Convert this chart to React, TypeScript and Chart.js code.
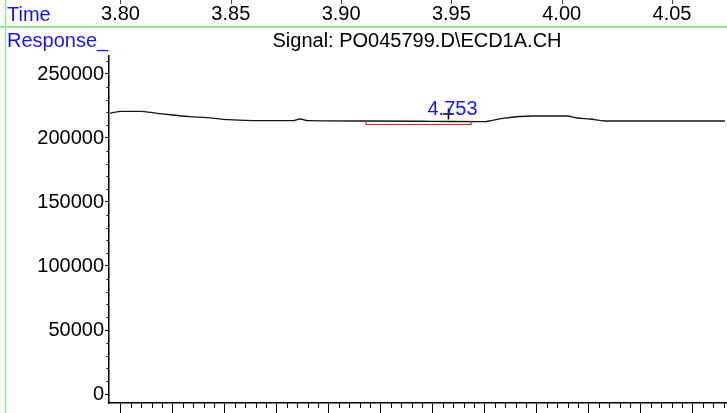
import React, { useEffect, useRef } from "react";
import { Chart, registerables } from "chart.js";

Chart.register(...registerables);

const FONT = '"Liberation Sans", Arial, Helvetica, sans-serif';
const BLUE = "rgb(20,20,255)";
const GREEN = "rgb(150,236,150)";

// ---- axis ranges / tick settings ----
const timeMin = 3.79479;
const timeMax = 4.07494;
const timeStep = 0.05;

const responseMin = -7031;
const responseMax = 264062;
const responseTicks = [0, 50000, 100000, 150000, 200000, 250000];
const responseMinorStep = 10000;

const scanMin = -1.106;
const scanMax = 58.32;
const scanMajorEvery = 5;

// ---- texts ----
const timeTitle = "Time";
const responseTitle = "Response_";
const signalTitle = "Signal: PO045799.D\\ECD1A.CH";

// ---- signal trace ----
const signalTimes = [
  3.79524, 3.80068, 3.80884, 3.81655, 3.8238, 3.83151, 3.83921, 3.84647,
  3.85644, 3.8782, 3.88137, 3.885, 3.91129, 3.9403, 3.96433, 3.97339,
  3.98699, 4.0024, 4.00693, 4.01283, 4.01963, 4.07402,
];
const signalValues = [
  219297, 220859, 220859, 219297, 217969, 216641, 215859, 214609,
  213828, 213516, 214844, 213516, 213281, 213047, 212734, 215391,
  217188, 217188, 215625, 214844, 213281, 213281,
];

// ---- peak annotation ----
const peakLabel = "4.753";
const peakTimes = [3.94869];
const peakValues = [218750];

const bracketTimes = [3.91129, 3.91129, 3.95889, 3.95889];
const bracketValues = [213281, 210547, 210547, 213281];

const decorPlugin = {
  id: "decor",
  afterDraw(chart: any) {
    const ctx = chart.ctx as CanvasRenderingContext2D;
    const xs = chart.scales.x;
    const ys = chart.scales.y;
    const bs = chart.scales.x2;
    const area = chart.chartArea;
    ctx.save();

    // green frame lines
    ctx.strokeStyle = GREEN;
    ctx.lineWidth = 2;
    ctx.beginPath();
    ctx.moveTo(0, 27);
    ctx.lineTo(chart.width, 27);
    ctx.stroke();
    ctx.lineWidth = 1.5;
    ctx.beginPath();
    ctx.moveTo(5.5, 0);
    ctx.lineTo(5.5, chart.height);
    ctx.stroke();

    // small ticks above the time labels
    ctx.strokeStyle = "#444";
    ctx.lineWidth = 1;
    xs.ticks.forEach((t: any) => {
      const px = Math.round(xs.getPixelForValue(t.value)) + 0.5;
      ctx.beginPath();
      ctx.moveTo(px, 0);
      ctx.lineTo(px, 4);
      ctx.stroke();
    });

    // y minor ticks
    ctx.strokeStyle = "#000";
    const majorSet = new Set(responseTicks);
    for (let v = 0; v <= ys.max; v += responseMinorStep) {
      if (majorSet.has(v)) continue;
      const py = Math.round(ys.getPixelForValue(v)) + 0.5;
      ctx.beginPath();
      ctx.moveTo(area.left - 2.5, py);
      ctx.lineTo(area.left, py);
      ctx.stroke();
    }

    // bottom minor ticks
    bs.ticks.forEach((t: any) => {
      if (t.value < 0 || Math.round(t.value) % scanMajorEvery === 0) return;
      const px = Math.round(bs.getPixelForValue(t.value)) + 0.5;
      ctx.beginPath();
      ctx.moveTo(px, area.bottom);
      ctx.lineTo(px, area.bottom + 5);
      ctx.stroke();
    });

    // texts
    ctx.font = `20px ${FONT}`;
    ctx.textBaseline = "alphabetic";
    ctx.fillStyle = BLUE;
    ctx.textAlign = "left";
    ctx.fillText(timeTitle, 7, 21);
    ctx.fillText(responseTitle, 7, 46.5);

    ctx.fillStyle = "#000";
    ctx.textAlign = "center";
    ctx.fillText(signalTitle, 417, 46.5);

    // peak label
    const px = xs.getPixelForValue(peakTimes[0]);
    const py = ys.getPixelForValue(peakValues[0]);
    ctx.fillStyle = BLUE;
    ctx.textAlign = "center";
    ctx.fillText(peakLabel, px + 4, py + 1.5);

    ctx.restore();
  },
};

export default function App() {
  const ref = useRef<HTMLCanvasElement | null>(null);

  useEffect(() => {
    if (!ref.current) return;
    const chart = new Chart(ref.current, {
      type: "line",
      data: {
        datasets: [
          {
            label: "signal",
            data: signalTimes.map((t, i) => ({ x: t, y: signalValues[i] })),
            borderColor: "#151515",
            borderWidth: 1.3,
            pointRadius: 0,
            cubicInterpolationMode: "monotone",
            xAxisID: "x",
            yAxisID: "y",
            order: 3,
          } as any,
          {
            label: "bracket",
            data: bracketTimes.map((t, i) => ({ x: t, y: bracketValues[i] })),
            borderColor: "rgb(235,30,30)",
            borderWidth: 1.2,
            pointRadius: 0,
            tension: 0,
            xAxisID: "x",
            yAxisID: "y",
            order: 2,
          } as any,
          {
            label: "peak",
            data: peakTimes.map((t, i) => ({ x: t, y: peakValues[i] })),
            showLine: false,
            pointStyle: "cross",
            pointRadius: 5.5,
            pointBorderWidth: 1.6,
            pointBorderColor: "#000",
            borderColor: "#000",
            xAxisID: "x",
            yAxisID: "y",
            order: 1,
          } as any,
        ],
      },
      options: {
        animation: false,
        responsive: false,
        maintainAspectRatio: false,
        layout: { padding: 0, autoPadding: false } as any,
        plugins: {
          legend: { display: false },
          tooltip: { enabled: false },
          title: { display: false },
        },
        scales: {
          x: {
            type: "linear",
            position: "top",
            min: timeMin,
            max: timeMax,
            grid: { display: false, drawOnChartArea: false, drawTicks: false },
            border: { display: false },
            ticks: {
              stepSize: timeStep,
              includeBounds: false,
              autoSkip: false,
              maxRotation: 0,
              minRotation: 0,
              padding: 30,
              color: "#000",
              font: { family: FONT, size: 20 },
              callback: (v: any) => Number(v).toFixed(2),
            },
            afterFit: (s: any) => {
              s.height = 56;
              s.paddingLeft = 0;
              s.paddingRight = 0;
            },
          } as any,
          x2: {
            type: "linear",
            position: "bottom",
            min: scanMin,
            max: scanMax,
            grid: {
              display: true,
              drawOnChartArea: false,
              drawTicks: true,
              tickLength: 10,
              tickWidth: 1,
              tickColor: (c: any) =>
                c.tick && c.tick.value >= 0 && Math.round(c.tick.value) % scanMajorEvery === 0
                  ? "#000"
                  : "rgba(0,0,0,0)",
            },
            border: { display: true, color: "#000", width: 1.5 },
            ticks: {
              display: false,
              stepSize: 1,
              includeBounds: false,
              autoSkip: false,
              maxTicksLimit: 100,
            },
            afterFit: (s: any) => {
              s.height = 10;
              s.paddingLeft = 0;
              s.paddingRight = 0;
            },
          } as any,
          y: {
            type: "linear",
            position: "left",
            min: responseMin,
            max: responseMax,
            afterBuildTicks: (s: any) => {
              s.ticks = responseTicks.map((v) => ({ value: v }));
            },
            grid: {
              display: true,
              drawOnChartArea: false,
              drawTicks: true,
              tickLength: 4,
              tickColor: "#000",
              tickWidth: 1,
            },
            border: { display: true, color: "#000", width: 1.5 },
            ticks: {
              autoSkip: false,
              padding: 1,
              color: "#000",
              font: { family: FONT, size: 20 },
              callback: (v: any) => String(v),
            },
            afterFit: (s: any) => {
              s.width = 109;
              s.paddingTop = 0;
              s.paddingBottom = 0;
            },
          } as any,
        },
      },
      plugins: [decorPlugin],
    });
    return () => chart.destroy();
  }, []);

  return (
    <div style={{ position: "absolute", left: 0, top: 0, width: 727, height: 413, background: "#fff" }}>
      <canvas ref={ref} width={727} height={413} style={{ display: "block" }} />
    </div>
  );
}
